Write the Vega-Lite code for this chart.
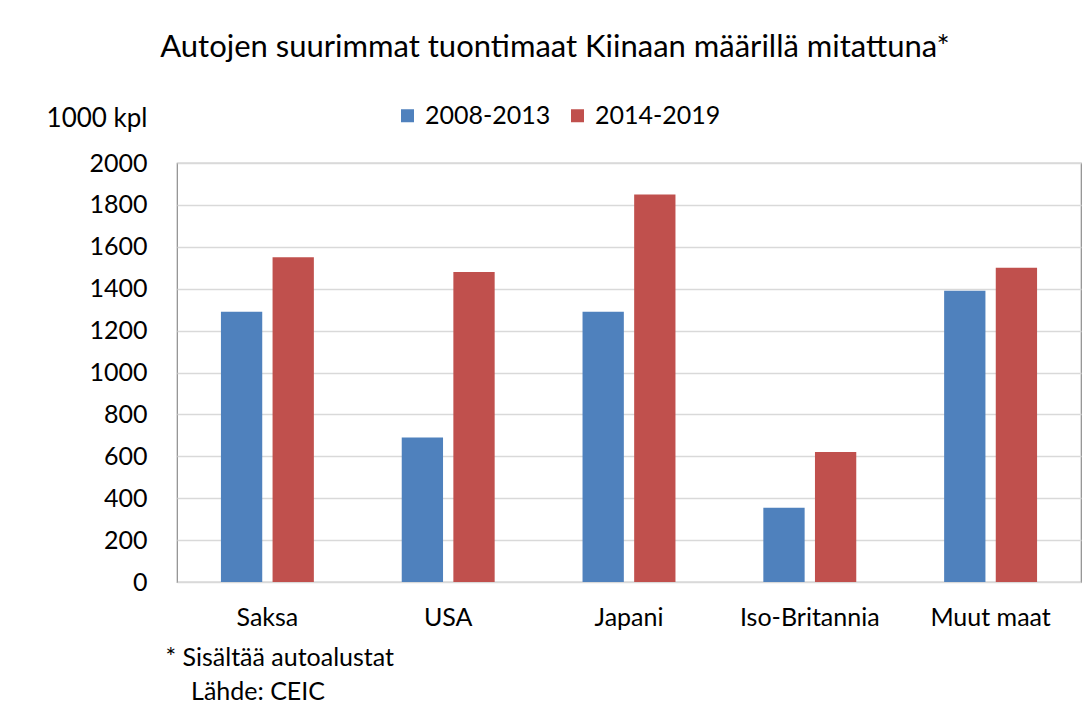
{
  "$schema": "https://vega.github.io/schema/vega-lite/v6.json",
  "width": 904,
  "height": 419,
  "autosize": {"type": "none"},
  "padding": {"left": 177, "top": 163, "right": 10, "bottom": 137},
  "background": "white",
  "title": {
    "text": "Autojen suurimmat tuontimaat Kiinaan määrillä mitattuna*",
    "font": "Lato",
    "fontSize": 31,
    "fontWeight": "normal",
    "color": "#000000",
    "anchor": "middle",
    "dx": -74,
    "offset": 39
  },
  "config": {
    "view": {"stroke": "#8c8c8c", "strokeWidth": 1.2},
    "font": "Lato"
  },
  "data": {
    "values": [
      {"maa": "Saksa", "jakso": "2008-2013", "arvo": 1290},
      {"maa": "Saksa", "jakso": "2014-2019", "arvo": 1550},
      {"maa": "USA", "jakso": "2008-2013", "arvo": 690},
      {"maa": "USA", "jakso": "2014-2019", "arvo": 1480},
      {"maa": "Japani", "jakso": "2008-2013", "arvo": 1290},
      {"maa": "Japani", "jakso": "2014-2019", "arvo": 1850},
      {"maa": "Iso-Britannia", "jakso": "2008-2013", "arvo": 355},
      {"maa": "Iso-Britannia", "jakso": "2014-2019", "arvo": 620},
      {"maa": "Muut maat", "jakso": "2008-2013", "arvo": 1390},
      {"maa": "Muut maat", "jakso": "2014-2019", "arvo": 1500}
    ]
  },
  "mark": {"type": "bar"},
  "encoding": {
    "x": {
      "field": "maa",
      "type": "nominal",
      "sort": ["Saksa", "USA", "Japani", "Iso-Britannia", "Muut maat"],
      "scale": {"paddingInner": 0.486, "paddingOuter": 0.243},
      "axis": {
        "labelAngle": 0,
        "labelFont": "Lato",
        "labelFontSize": 25,
        "labelColor": "#000000",
        "labelPadding": 23,
        "ticks": false,
        "domain": false,
        "title": ["* Sisältää autoalustat", "\u200b\u00a0\u00a0\u00a0\u00a0Lähde: CEIC"],
        "titleFont": "Lato",
        "titleFontSize": 25,
        "titleFontWeight": "normal",
        "titleColor": "#000000",
        "titleAlign": "left",
        "titleAnchor": "start",
        "titleBaseline": "alphabetic",
        "titleX": -12,
        "titleY": 83,
        "titleLineHeight": 34
      }
    },
    "xOffset": {
      "field": "jakso",
      "type": "nominal",
      "scale": {"paddingInner": 0.2}
    },
    "y": {
      "field": "arvo",
      "type": "quantitative",
      "scale": {"domain": [0, 2000]},
      "axis": {
        "values": [0, 200, 400, 600, 800, 1000, 1200, 1400, 1600, 1800, 2000],
        "format": "d",
        "labelFont": "Lato",
        "labelFontSize": 25,
        "labelColor": "#000000",
        "labelPadding": 30,
        "ticks": false,
        "domain": false,
        "grid": true,
        "gridColor": "#d9d9d9",
        "gridWidth": 1.5,
        "title": "1000 kpl",
        "titleFont": "Lato",
        "titleFontSize": 26,
        "titleFontWeight": "normal",
        "titleColor": "#000000",
        "titleAngle": 0,
        "titleAlign": "right",
        "titleBaseline": "alphabetic",
        "titleX": -30,
        "titleY": -37
      }
    },
    "color": {
      "field": "jakso",
      "type": "nominal",
      "scale": {"domain": ["2008-2013", "2014-2019"], "range": ["#4f81bd", "#c0504d"]},
      "legend": {
        "orient": "none",
        "direction": "horizontal",
        "legendX": 218,
        "legendY": -60,
        "title": null,
        "symbolType": "square",
        "symbolSize": 169,
        "symbolStrokeWidth": 0,
        "labelFont": "Lato",
        "labelFontSize": 25,
        "labelColor": "#000000",
        "labelOffset": 5,
        "columnPadding": 14
      }
    }
  }
}
